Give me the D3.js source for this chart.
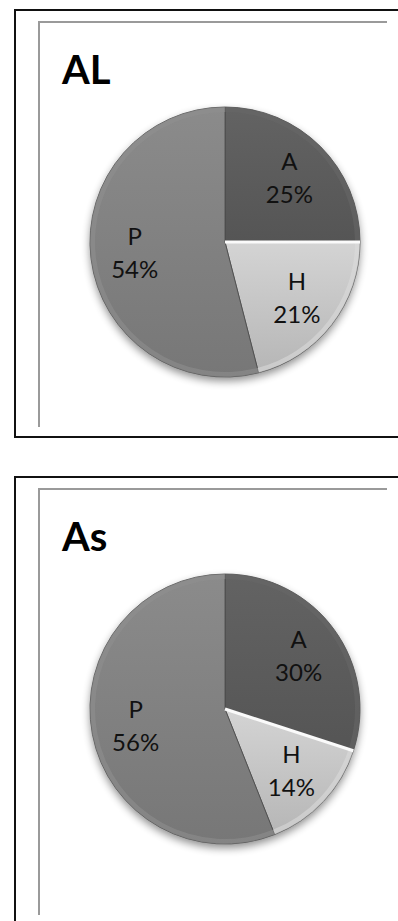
<!DOCTYPE html>
<html>
<head>
<meta charset="utf-8">
<script src="https://cdn.jsdelivr.net/npm/d3@7"></script>
<style>
  html, body { margin: 0; padding: 0; background: #fff; }
  svg { display: block; }
</style>
</head>
<body>
<script>
// ---- data ----
const panelTitles = ["AL", "As"];
const categories = ["A", "H", "P"];
const valuesAL = [25, 21, 54];
const valuesAs = [30, 14, 56];
const seriesValues = [valuesAL, valuesAs];

// ---- drawing ----
const W = 398, H = 921;
const svg = d3.select("body").append("svg").attr("width", W).attr("height", H);
const defs = svg.append("defs");

const baseColor = d3.scaleOrdinal().domain(categories).range(["#5b5b5b", "#c2c2c2", "#7f7f7f"]);

categories.forEach(c => {
  const col = d3.color(baseColor(c));
  const g = defs.append("linearGradient").attr("id", "grad-" + c)
    .attr("x1", 0).attr("y1", 0).attr("x2", 0).attr("y2", 1);
  g.append("stop").attr("offset", "0%").attr("stop-color", col.brighter(0.25));
  g.append("stop").attr("offset", "100%").attr("stop-color", col.darker(0.18));
});

const shadow = defs.append("filter").attr("id", "shadow")
  .attr("x", "-20%").attr("y", "-20%").attr("width", "140%").attr("height", "140%");
shadow.append("feGaussianBlur").attr("in", "SourceAlpha").attr("stdDeviation", 4);
shadow.append("feOffset").attr("dx", 0).attr("dy", 4).attr("result", "off");
shadow.append("feComponentTransfer").append("feFuncA").attr("type", "linear").attr("slope", 0.45);

const panelTop = [9, 476];
const radius = 135;
const pie = d3.pie().sort(null).value(d => d.v);
const arc = d3.arc().innerRadius(0).outerRadius(radius);
const bevel = d3.arc().innerRadius(radius - 5).outerRadius(radius);
const labelArc = d3.arc().innerRadius(91).outerRadius(91);

panelTitles.forEach((title, i) => {
  const top = panelTop[i];
  const g = svg.append("g").attr("transform", `translate(0,${top})`);

  const outerBottom = 428;
  g.append("path")
    .attr("d", i === 0
      ? `M${W},1 H15 V${outerBottom} H${W}`
      : `M${W},1 H15 V${H - top + 5}`)
    .attr("fill", "none").attr("stroke", "#111").attr("stroke-width", 2);

  const innerBottom = i === 0 ? 418 : 439;
  g.append("path")
    .attr("d", `M39,${innerBottom} V13 H387`)
    .attr("fill", "none").attr("stroke", "#9a9a9a").attr("stroke-width", 2);

  g.append("text")
    .attr("x", 62).attr("y", 75)
    .attr("font-family", "Lato, 'Open Sans', sans-serif")
    .attr("font-weight", "bold").attr("font-size", 40)
    .attr("fill", "#000").text(title);

  const data = categories.map((c, k) => ({ c, v: seriesValues[i][k] }));
  const arcs = pie(data);
  const cg = g.append("g").attr("transform", `translate(225,${233})`);

  cg.append("circle").attr("r", radius).attr("fill", "#000").attr("filter", "url(#shadow)");

  cg.selectAll("path.slice").data(arcs).join("path")
    .attr("class", "slice")
    .attr("d", arc)
    .attr("fill", d => `url(#grad-${d.data.c})`)
    .attr("stroke", "#4a4a4a").attr("stroke-width", 0.8);

  cg.selectAll("path.rim").data(arcs).join("path")
    .attr("class", "rim")
    .attr("d", bevel)
    .attr("fill", d => d3.color(baseColor(d.data.c)).brighter(0.35))
    .attr("opacity", 0.55);

  cg.selectAll("line.hl").data(arcs.filter(d => d.data.c === "H")).join("line")
    .attr("class", "hl")
    .attr("x1", 0).attr("y1", 0)
    .attr("x2", d => radius * Math.sin(d.startAngle))
    .attr("y2", d => -radius * Math.cos(d.startAngle))
    .attr("stroke", "#fafafa").attr("stroke-width", 3);

  const lab = cg.selectAll("g.lab").data(arcs).join("g")
    .attr("class", "lab")
    .attr("transform", d => `translate(${labelArc.centroid(d)})`)
    .attr("font-family", "Lato, 'Open Sans', sans-serif")
    .attr("font-size", 24).attr("fill", "#111").attr("text-anchor", "middle");
  lab.append("text").attr("y", -8).text(d => d.data.c);
  lab.append("text").attr("y", 25).text(d => d.data.v + "%");
});
</script>
</body>
</html>
